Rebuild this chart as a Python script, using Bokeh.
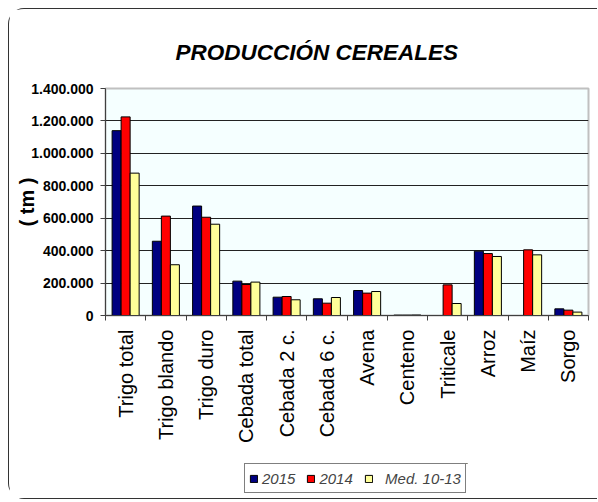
import math
from bokeh.plotting import figure
from bokeh.models import (ColumnDataSource, Range1d, FixedTicker, Legend, LegendItem)
from bokeh.embed import file_html
from bokeh.resources import INLINE

categories = ["Trigo total", "Trigo blando", "Trigo duro", "Cebada total", "Cebada 2 c.",
              "Cebada 6 c.", "Avena", "Centeno", "Triticale", "Arroz", "Maíz", "Sorgo"]
v2015 = [1140000, 458000, 675000, 212000, 113000, 103000, 154000, 2500, 0, 397000, 0, 41000]
v2014 = [1225000, 613000, 606000, 191000, 117000, 76000, 138000, 2500, 189000, 382000, 405000, 33000]
vmed = [878000, 313000, 563000, 206000, 97000, 111000, 148000, 3000, 74000, 364000, 374000, 21000]
series_names = ["2015", "2014", "\u00a0\u00a0Med. 10-13"]
series_colors = ["#000080", "#FF0000", "#FFFF99"]
y_ticks = [0, 200000, 400000, 600000, 800000, 1000000, 1200000, 1400000]
y_tick_labels = ["0", "200.000", "400.000", "600.000", "800.000", "1.000.000", "1.200.000", "1.400.000"]

n = len(categories)
centers = [i + 0.5 for i in range(n)]
bw = 0.224

p = figure(frame_width=483, frame_height=227, output_backend="svg", toolbar_location=None,
           x_range=Range1d(0, n), y_range=Range1d(0, 1400000),
           min_border_left=96, min_border_right=9, min_border_top=79, min_border_bottom=183)
p.styles = {"margin-left": "8px", "margin-top": "8px",
            "border-top": "1.5px solid #333333", "border-left": "1.5px solid #333333",
            "border-bottom": "1.5px solid #333333",
            "border-top-left-radius": "16px", "border-bottom-left-radius": "16px"}
p.background_fill_color = "#F5FFFF"
p.border_fill_color = "white"
p.outline_line_color = "#C0C0C0"
p.outline_line_width = 2

# title
p.title.text = "PRODUCCIÓN CEREALES"
p.title.align = "left"
p.title.offset = 70
p.title.standoff = 47
p.title.text_font = "Liberation Sans"
p.title.text_font_style = "bold italic"
p.title.text_font_size = "22.5px"
p.title.text_color = "black"

sources = []
for k, vals in enumerate([v2015, v2014, vmed]):
    xs = [c + (k - 1) * bw for c in centers]
    src = ColumnDataSource(dict(x=xs, top=vals))
    sources.append(src)
    p.vbar(x="x", top="top", width=bw, source=src, fill_color=series_colors[k],
           line_color="black", line_width=1)

# axes
xa = p.xaxis[0]
xa.ticker = FixedTicker(ticks=centers, minor_ticks=list(range(n + 1)))
xa.major_label_overrides = {c: cat for c, cat in zip(centers, categories)}
xa.major_label_orientation = math.pi / 2
xa.major_tick_out = 0
xa.major_tick_in = 0
xa.minor_tick_out = 5
xa.minor_tick_in = 0
xa.minor_tick_line_color = "#404040"
xa.axis_line_color = "#404040"
xa.major_label_standoff = 9
xa.major_label_text_font = "Liberation Sans"
xa.major_label_text_font_size = "20px"
xa.major_label_text_color = "black"

ya = p.yaxis[0]
ya.ticker = FixedTicker(ticks=y_ticks)
ya.major_label_overrides = {t: s for t, s in zip(y_ticks, y_tick_labels)}
ya.major_tick_out = 5
ya.major_tick_in = 0
ya.minor_tick_out = 0
ya.minor_tick_in = 0
ya.major_tick_line_color = "#404040"
ya.axis_line_color = "#404040"
ya.major_label_standoff = 7
ya.major_label_text_font = "Liberation Sans"
ya.major_label_text_font_style = "bold"
ya.major_label_text_font_size = "14px"
ya.major_label_text_color = "black"
ya.axis_label = "( tm )"
ya.axis_label_standoff = -10
ya.axis_label_text_font = "Liberation Sans"
ya.axis_label_text_font_style = "bold"
ya.axis_label_text_font_size = "20px"
ya.axis_label_text_color = "black"

p.xgrid.visible = False
p.ygrid.ticker = FixedTicker(ticks=y_ticks[1:-1])
p.ygrid.grid_line_color = "#222222"
p.ygrid.grid_line_width = 1

# legend figure: same series, ranges chosen so only the legend shows
pl = figure(width=226, height=32, output_backend="svg", toolbar_location=None,
            x_axis_type=None, y_axis_type=None, min_border=0,
            x_range=Range1d(0, n), y_range=Range1d(-2, -1))
pl.title_location = None
pl.outline_line_color = None
pl.background_fill_color = "white"
pl.border_fill_color = "white"
pl.xgrid.visible = False
pl.ygrid.visible = False
pl.styles = {"position": "absolute", "left": "244px", "top": "463px"}
items = []
for k in range(3):
    r = pl.vbar(x="x", top="top", width=bw, source=sources[k], fill_color=series_colors[k],
                line_color="black", line_width=1)
    items.append(LegendItem(label=series_names[k], renderers=[r]))
legend = Legend(items=items, orientation="horizontal", location="top_left", margin=0,
                padding=4, spacing=11, label_standoff=4, glyph_width=9, glyph_height=9,
                label_text_font="Liberation Sans", label_text_font_style="italic",
                label_text_font_size="15px", label_height=20,
                border_line_color="black", border_line_width=1,
                background_fill_color="white", background_fill_alpha=1)
pl.add_layout(legend, "center")

open("out.html", "w").write(file_html([p, pl], INLINE))
